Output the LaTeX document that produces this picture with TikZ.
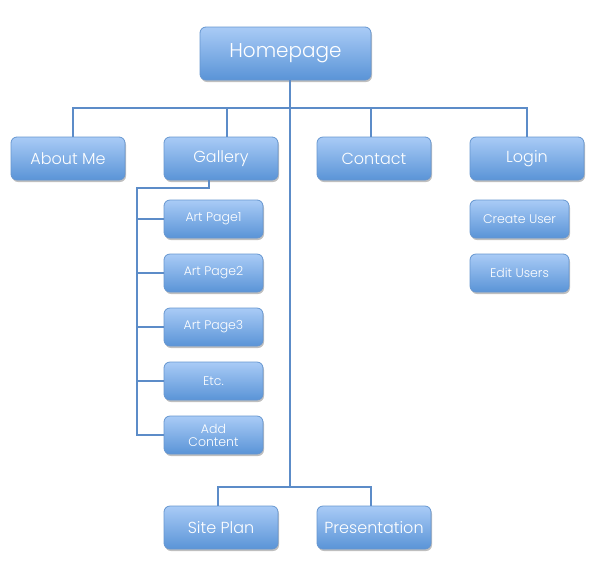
\documentclass[tikz,border=0pt]{standalone}
\usepackage{fontspec}
\setmainfont{Poppins}[UprightFont=* Light]
\usetikzlibrary{shadows}
\definecolor{boxtop}{HTML}{A9CBF6}
\definecolor{boxbot}{HTML}{5A94D7}
\definecolor{boxedge}{HTML}{6696D0}
\definecolor{linec}{HTML}{5C8CC8}
\tikzset{
  box/.style={draw=boxedge, line width=0.8pt, rounded corners=6pt, top color=boxtop, bottom color=boxbot,
    text=white, align=center, inner sep=0pt,
    drop shadow={shadow xshift=1pt, shadow yshift=-2pt, opacity=0.25, fill=black}},
  big/.style={box, minimum width=114pt, minimum height=43pt, font=\fontsize{16}{18}\selectfont},
  small/.style={box, minimum width=99pt, minimum height=38pt, font=\fontsize{12.5}{13}\selectfont},
  conn/.style={draw=linec, line width=2pt}
}
\begin{document}
\begin{tikzpicture}[x=1pt,y=-1pt]
\useasboundingbox (0,0) rectangle (596,579);
\node[box, minimum width=171pt, minimum height=53pt, font=\fontsize{20}{22}\selectfont] (home) at (285.5,53.5) {Homepage};
\node[big] (about) at (68,158.5) {About Me};
\node[big] (gallery) at (221,158.5) {Gallery};
\node[big] (contact) at (374,158.5) {Contact};
\node[big] (login) at (527,158.5) {Login};
\node[small] (art1) at (213.5,219) {Art Page1};
\node[small] (art2) at (213.5,273) {Art Page2};
\node[small] (art3) at (213.5,327) {Art Page3};
\node[small] (etc) at (213.5,381) {Etc.};
\node[small] (add) at (213.5,435) {Add\\Content};
\node[small] (create) at (519.5,219) {Create User};
\node[small] (edit) at (519.5,273) {Edit Users};
\node[big] (site) at (221,527.5) {Site Plan};
\node[big] (pres) at (374,527.5) {Presentation};
\coordinate (t) at (290,108);
\coordinate (tb) at (290,487);
\coordinate (b1) at (73,108);
\coordinate (b2) at (227,108);
\coordinate (b3) at (371,108);
\coordinate (b4) at (527,108);
\coordinate (s1) at (218,487);
\coordinate (s2) at (371,487);
\coordinate (g1) at (209,188);
\coordinate (g2) at (137,188);
\draw[conn] (b1 |- about.north) -- (b1) -- (b4) -- (b4 |- login.north);
\draw[conn] (b2) -- (b2 |- gallery.north);
\draw[conn] (b3) -- (b3 |- contact.north);
\draw[conn] (home.south -| t) -- (tb);
\draw[conn] (s1 |- site.north) -- (s1) -- (s2) -- (s2 |- pres.north);
\draw[conn] (g1 |- gallery.south) -- (g1) -- (g2) -- (g2 |- add.west) -- (add.west);
\foreach \n in {art1,art2,art3,etc} \draw[conn] (g2 |- \n.west) -- (\n.west);
\end{tikzpicture}
\end{document}
